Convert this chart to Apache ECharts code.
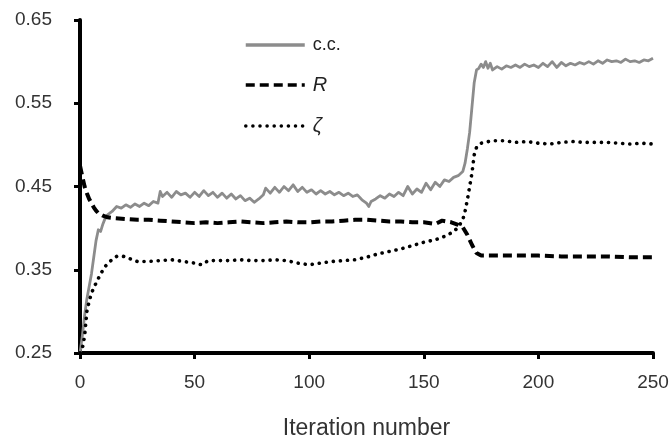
<!DOCTYPE html>
<html>
<head>
<meta charset="utf-8">
<script src="https://cdn.jsdelivr.net/npm/echarts@6/dist/echarts.min.js"></script>
<style>html,body{margin:0;padding:0;background:#fff}#c{width:672px;height:439px}</style>
</head>
<body>
<div id="c"></div>
<script>
const xTicks = [0, 50, 100, 150, 200, 250];
const yTicks = [0.25, 0.35, 0.45, 0.55, 0.65];

const ccIter = [0,1,2,3,4,5,6,7,8,9,10,11,12,14,16,18,20,22,24,26,28,30,32,34,35,36,38,40,42,44,46,48,50,52,54,56,58,60,62,64,66,68,70,72,74,76,78,80,81,83,85,87,89,91,93,95,97,99,101,103,105,107,109,111,113,115,117,119,121,123,125,126,127,129,131,133,135,137,139,141,143,145,147,149,151,153,155,157,159,161,163,165,167,168,169,170,171,172,173,174,175,176,177,178,179,180,182,184,186,188,190,192,194,196,198,200,202,204,206,208,210,212,214,216,218,220,222,224,226,228,230,232,234,236,238,240,242,244,246,248,250];
const ccVal = [0.25,0.27,0.295,0.315,0.33,0.345,0.365,0.385,0.398,0.396,0.405,0.412,0.416,0.42,0.426,0.424,0.428,0.425,0.429,0.426,0.43,0.427,0.432,0.43,0.444,0.438,0.443,0.437,0.444,0.44,0.442,0.437,0.443,0.438,0.445,0.439,0.443,0.437,0.442,0.436,0.441,0.435,0.439,0.433,0.436,0.431,0.435,0.44,0.448,0.442,0.449,0.443,0.45,0.445,0.452,0.444,0.449,0.443,0.446,0.441,0.445,0.441,0.444,0.44,0.443,0.439,0.442,0.438,0.44,0.434,0.43,0.426,0.432,0.435,0.439,0.436,0.441,0.438,0.443,0.439,0.45,0.441,0.447,0.443,0.454,0.446,0.455,0.45,0.458,0.456,0.461,0.463,0.468,0.478,0.495,0.515,0.545,0.575,0.59,0.592,0.597,0.593,0.6,0.592,0.598,0.59,0.594,0.591,0.595,0.593,0.596,0.593,0.597,0.594,0.596,0.593,0.598,0.594,0.6,0.593,0.599,0.595,0.598,0.596,0.599,0.597,0.6,0.597,0.601,0.598,0.602,0.6,0.601,0.599,0.603,0.6,0.601,0.599,0.602,0.601,0.604];

const rIter = [0,1,2,3,4,5,6,7,8,10,12,15,20,25,30,35,40,45,50,55,60,65,70,75,80,85,90,95,100,105,110,115,120,125,130,135,140,145,150,155,158,162,165,167,169,171,173,175,180,190,200,210,220,230,240,250];
const rVal = [0.475,0.462,0.45,0.442,0.435,0.43,0.425,0.421,0.418,0.415,0.413,0.412,0.411,0.41,0.41,0.409,0.408,0.407,0.406,0.407,0.406,0.407,0.408,0.407,0.406,0.407,0.408,0.407,0.407,0.408,0.408,0.409,0.41,0.41,0.409,0.408,0.408,0.407,0.407,0.405,0.409,0.407,0.404,0.401,0.392,0.38,0.37,0.367,0.367,0.367,0.367,0.366,0.366,0.366,0.365,0.365];

const zIter = [0,1,2,3,4,5,7,9,11,13,16,19,22,25,30,35,40,45,50,53,56,60,65,70,75,80,85,90,95,100,105,110,115,120,125,130,135,140,145,150,155,160,163,165,167,168,169,170,171,172,173,175,180,185,190,195,200,205,210,215,220,225,230,235,240,245,250];
const zVal = [0.25,0.255,0.27,0.3,0.312,0.322,0.334,0.345,0.354,0.36,0.366,0.366,0.363,0.36,0.36,0.361,0.362,0.36,0.358,0.356,0.361,0.361,0.361,0.362,0.361,0.361,0.362,0.361,0.358,0.356,0.358,0.36,0.361,0.362,0.365,0.369,0.372,0.375,0.379,0.383,0.386,0.391,0.396,0.401,0.41,0.42,0.434,0.45,0.466,0.488,0.497,0.502,0.505,0.505,0.503,0.504,0.502,0.501,0.503,0.504,0.503,0.503,0.503,0.502,0.501,0.502,0.501];

const zip = (xs, ys) => xs.map((x, i) => [x, ys[i]]);
const font = '"Liberation Sans", Arial, sans-serif';

const chart = echarts.init(document.getElementById('c'), null, {renderer: 'canvas'});
chart.setOption({
  animation: false,
  backgroundColor: '#fff',
  grid: {left: 80, right: 19, top: 20, bottom: 86, containLabel: false, outerBoundsMode: 'none'},
  legend: {
    orient: 'vertical',
    left: 239,
    top: 31,
    itemWidth: 59,
    itemHeight: 20,
    itemGap: 21,
    itemStyle: {opacity: 0},
    lineStyle: {width: 3.5},
    textStyle: {fontFamily: font, fontSize: 18, color: '#222', padding: [0, 0, 0, 3],
      rich: {it: {fontStyle: 'italic', fontFamily: font, fontSize: 20, color: '#222'}}},
    formatter: function (name) {
      if (name === 'c.c.') return name;
      return '{it|' + name + '}';
    },
    data: ['c.c.', 'R', 'ζ']
  },
  xAxis: {
    type: 'value', min: 0, max: 250, interval: 50,
    name: 'Iteration number', nameLocation: 'middle', nameGap: 64,
    nameTextStyle: {fontFamily: font, fontSize: 23, color: '#333'},
    axisLine: {show: true, onZero: false, lineStyle: {color: '#000', width: 4}},
    axisTick: {show: true, inside: false, length: 6, lineStyle: {color: '#000', width: 3}},
    axisLabel: {margin: 20, fontFamily: font, fontSize: 19, color: '#333',
      formatter: v => xTicks.includes(v) ? String(v) : ''},
    splitLine: {show: false}
  },
  yAxis: {
    type: 'value', min: 0.25, max: 0.65, interval: 0.1,
    axisLine: {show: true, onZero: false, lineStyle: {color: '#000', width: 4}},
    axisTick: {show: true, inside: false, length: 6, lineStyle: {color: '#000', width: 3}},
    axisLabel: {margin: 28, fontFamily: font, fontSize: 19, color: '#333',
      formatter: v => { const s = Number(v).toFixed(2); return yTicks.map(t => t.toFixed(2)).includes(s) ? s : ''; }},
    splitLine: {show: false}
  },
  series: [
    {name: 'c.c.', type: 'line', data: zip(ccIter, ccVal), symbol: 'none', showSymbol: false,
      lineStyle: {color: '#8c8c8c', width: 2.8, join: 'round'}, itemStyle: {color: '#8c8c8c'}, z: 2},
    {name: 'R', type: 'line', data: zip(rIter, rVal), symbol: 'none', showSymbol: false,
      lineStyle: {color: '#000', width: 4, type: [9, 5]}, itemStyle: {color: '#000'}, z: 3},
    {name: 'ζ', type: 'line', data: zip(zIter, zVal), symbol: 'none', showSymbol: false,
      lineStyle: {color: '#000', width: 3.6, type: [0.1, 7], cap: 'round'}, itemStyle: {color: '#000'}, z: 3}
  ]
});
</script>
</body>
</html>
